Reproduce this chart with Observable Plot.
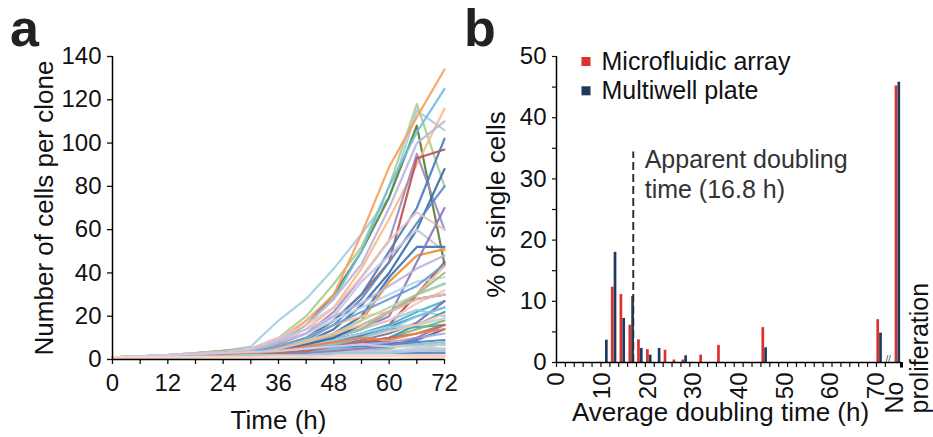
<!DOCTYPE html>
<html><head><meta charset="utf-8">
<script src="https://cdn.jsdelivr.net/npm/d3@7"></script>
<script src="https://cdn.jsdelivr.net/npm/@observablehq/plot@0.6"></script>
<style>
body{margin:0;background:#fff;}
#wrap{position:relative;width:933px;height:437px;font-family:"Liberation Sans",Arial,Helvetica,sans-serif;overflow:hidden;}
#pa{position:absolute;left:0;top:0;}
#pb{position:absolute;left:470px;top:0;}
.lbl{position:absolute;font-weight:bold;font-size:52px;line-height:52px;color:#222;}
</style></head><body>
<div id="wrap">
<div id="pa"></div><div id="pb"></div>
<div class="lbl" style="left:10px;top:2px;">a</div>
<div class="lbl" style="left:464px;top:2px;">b</div>
</div>
<script>
// ---------- Panel a data ----------
const times = [0, 6, 12, 18, 24, 30, 36, 42, 48, 54, 60, 66, 72];
const cloneCounts = [
  [1,1.5,2,3,4,6,18,28,42,58,75,115,106],
  [1,1.5,2,2.5,4,5,10,20,35,52,80,118,80],
  [1,1,2,2.5,3,5,8,16,30,50,75,108,44],
  [1,1.5,2,3,4,5,9,18,30,58,89,112,134],
  [1,1,2,3,4,5,8,16,28,50,80,105,125],
  [1,1.5,2,3,3.5,5,8,14,24,42,65,90,116],
  [1,1.5,2,2.5,3,4,9,16,28,44,70,100,110],
  [1,1,2,2.5,3,4,7,12,22,38,55,95,60],
  [1,1,1.5,2,3,4,6,10,18,30,45,93,97],
  [1,1,1.5,2,3,4,6,10,18,30,50,70,102],
  [1,1,1.5,2,3,4,5,8,14,25,40,60,88],
  [1,1,1.5,2,2.5,3.5,5,9,16,28,45,63,80],
  [1,1.5,2,2.5,3,4,9,14,20,36,48,60,50],
  [1,1.5,2,2.5,3,5,10,16,24,38,55,68,60],
  [1,1,1.5,2,2.5,3.5,5,8,12,18,36,48,51],
  [1,1,1.5,2,2.5,3,4,8,12,20,38,52,52],
  [1,1,1.5,2,2.5,3,4,6,10,14,22,30,35],
  [1,1,1.5,2,2.5,3,5,7,10,14,20,45,70],
  [1,1,1.5,2,2.5,3,4,6,9,12,16,30,45],
  [1,1.5,2,2.5,3,4,6,10,16,20,22,30,43],
  [1,1.5,2,2.5,3,4,6,9,12,18,24,30,35],
  [1,1,1.5,2,2.5,3,4,6,9,12,16,22,27],
  [1,1,1.5,2,2.5,3,4,6,8,11,15,20,24],
  [1,1,1.5,2,2.5,3.5,6,8,10,14,18,23,20],
  [1,1,1.5,2,2.5,3,4,5,7,9,12,17,27],
  [1,1,1.5,2,2.5,3,5,8,12,15,18,26,32],
  [1,1,1.5,2,2,3,4,6,9,12,14,15,16],
  [1,1,1.5,2,2,3,4,5,6,8,10,14,18],
  [1,1,1.5,2,2.5,3,5,7,9,12,15,16,19],
  [1,1,1.5,2,2,2.5,3,4,5,6,7,9,14],
  [1,1,1.5,2,2,2.5,3,4,5,8,8,6,7],
  [1,1,1.5,2,2,3,4,5,6,7,8,10,12],
  [1,1,1.5,1.5,2,2.5,3,4,5,6,5,8,3],
  [1,1,1.5,1.5,2,2.5,3,4,5,6,7,8,9],
  [1,1,1,1.5,2,2,3,4,5,5,6,7,8],
  [1,1,1,1.5,2,2,3,3,4,4,3,4,5],
  [1,1,1,1,1.5,1.5,2,2,2,2.5,2.5,2,2],
  [1,1,1,1,1,1.5,1.5,2,2,2,2,2,1.5],
  [1,1,1,1.5,1.5,2,2,3,4,5,4,3,4],
  [1,1,1,1.5,2,2,3,3,4,5,6,6,7],
  [1,1,1,1.5,1.5,2,2,3,3,4,4,5,5],
  [1,1,1,1,1.5,1.5,2,2,3,3,3,3,3],
  [1,1,1,1.5,1.5,2,2,3,4,5,6,10,16],
  [1,1,1.5,1.5,2,2.5,3,4,6,8,10,16,22],
  [1,1,1.5,2,2,2.5,3,4,6,8,10,12,16],
  [1,1,1.5,2,2.5,3,4,6,8,10,13,16,21],
  [1,1.5,2,2.5,3,4,8,12,18,24,30,36,38],
  [1,1,1.5,2,2.5,3,5,8,11,14,22,30,40],
  [1,1,1.5,2,2.5,3,4,7,10,16,22,28,30],
  [1,1,1.5,2,2.5,3,4,5,7,10,14,20,24],
  [1,1.5,2,2.5,3,4,8,12,20,26,34,42,48],
  [1,1,1.5,2,2.5,3,5,8,12,16,22,28,30],
  [1,1,1.5,2,2.5,3.5,6,10,16,22,28,34,44],
  [1,1,1.5,2,2.5,3,4,6,8,10,9,12,14],
  [1,1.5,2,2.5,3,3.5,4,5,6,7,6,6,5],
  [1,1,1,1.5,1.5,2,2,2,3,3,3,4,4],
  [1,1,1,1,1,1,1,1,1.5,1.5,1.5,1.5,1.5],
  [1,1,1,1,1,1,1.5,1.5,1.5,1.5,2,1,1]
];
const cloneColors = [
  "#a6cde3","#a8cf94","#5b7f3a","#fba15e","#6fc0d8","#fdb98a","#b9b6dc","#9b8ec4",
  "#c0504d","#4a7fbf","#3a6ea5","#5b87c5","#c7c3e0","#e8c3c0","#f28e2b","#3b74b7",
  "#2a9fbc","#8a78b8","#b5443d","#f9c29a","#b8d6a8","#4cb3cf","#4b79b8","#9cc9e4",
  "#7d6db0","#f3c5c2","#38a5c0","#7fb56a","#add3e8","#3f6fb1","#63568f","#aea7d3",
  "#8cc078","#4f84c2","#8cc3df","#f7a35c","#f8d0b8","#f2cfcf","#5fbfd6","#c4dfb5",
  "#c9c5e2","#5b8bc6","#8c7dbd","#2b9ab8","#c96560","#fbc8a0","#b4d8ec","#9fbf8a",
  "#356aa9","#7acde0","#bdb3d9","#f5b8a3","#6e9fd0","#e8804a","#d0cde6","#a4cfe5",
  "#f0c9c4","#f9d8c4"
];
const timeTicks = [0, 6, 12, 18, 24, 30, 36, 42, 48, 54, 60, 66, 72];
const countTicks = [0, 20, 40, 60, 80, 100, 120, 140];

// ---------- Panel b data ----------
const binHours     = [10.6, 12.5, 14.4, 16.35, 18.25, 20.2, 22.15, 24.05, 26.0, 27.95, 31.85, 35.75, 45.45, 70.6, 74.6];
const microfluidic = [0, 12.3, 11.1, 6.1, 3.7, 2.1, 0, 2.0, 0.4, 0.4, 1.2, 2.8, 5.7, 7.0, 45.2];
const multiwell    = [3.65, 18.0, 7.2, 10.8, 2.3, 1.2, 2.3, 0, 0, 1.1, 0, 0, 2.4, 4.8, 45.8];
const doublingLabelTicks = [0, 10, 20, 30, 40, 50, 60, 70];
const percentTicks = [0, 5, 10, 15, 20, 25, 30, 35, 40, 45, 50];
const apparentDoubling = 16.8;
const seriesNames = ["Microfluidic array", "Multiwell plate"];
const seriesColors = ["#dc322c", "#1e3a5f"];

const FONT = '"Liberation Sans", Arial, Helvetica, sans-serif';

// ---------- Panel a ----------
const lineData = cloneCounts.flatMap((vals, i) =>
  times.map((t, j) => ({clone: i, t, n: vals[j], color: cloneColors[i]})));

const pa = Plot.plot({
  width: 470, height: 437,
  marginLeft: 112, marginRight: 26, marginTop: 56, marginBottom: 78,
  style: {fontFamily: FONT, fontSize: "24px", color: "#111", background: "transparent"},
  x: {domain: [0, 72]},
  y: {domain: [0, 140]},
  color: {type: "identity"},
  marks: [
    Plot.line(lineData, {x: "t", y: "n", z: "clone", stroke: "color", strokeWidth: 2.2, strokeOpacity: 0.92}),
    Plot.axisX({ticks: timeTicks, tickFormat: d => d % 12 === 0 ? String(d) : "", tickSize: 5, tickPadding: 9, label: null, strokeWidth: 1.3}),
    Plot.axisY({ticks: countTicks, tickSize: 5, tickPadding: 6, label: null, strokeWidth: 1.3}),
    Plot.ruleX([0], {stroke: "#000", strokeWidth: 1.5}),
    Plot.ruleY([0], {stroke: "#000", strokeWidth: 1.5}),
    Plot.text(["Time (h)"], {frameAnchor: "bottom", dy: 61, textAnchor: "middle", lineAnchor: "middle", fontSize: 26, fill: "#111"}),
    Plot.text(["Number of cells per clone"], {frameAnchor: "left", dx: -68, rotate: -90, textAnchor: "middle", lineAnchor: "middle", fontSize: 26, fill: "#111"})
  ]
});
document.getElementById("pa").appendChild(pa);

// ---------- Panel b ----------
const barData = binHours.flatMap((h, i) => [
  {h, v: microfluidic[i], s: 0},
  {h, v: multiwell[i], s: 1}
]).filter(d => d.v > 0);
const minorTicks = d3.range(0, 73, 1.945).concat([75.5]);

const pb = Plot.plot({
  width: 463, height: 437,
  marginLeft: 86, marginRight: 32, marginTop: 56, marginBottom: 75,
  style: {fontFamily: FONT, fontSize: "24px", color: "#111", background: "transparent", overflow: "visible"},
  x: {domain: [0, 75.5]},
  y: {domain: [0, 50]},
  marks: [
    Plot.ruleX(barData.filter(d => d.s === 0), {x: "h", y1: 0, y2: "v", stroke: seriesColors[0], strokeWidth: 2.7, dx: -1.4}),
    Plot.ruleX(barData.filter(d => d.s === 1), {x: "h", y1: 0, y2: "v", stroke: seriesColors[1], strokeWidth: 2.7, dx: 1.4}),
    Plot.ruleX([apparentDoubling], {y1: 0, y2: 34.4, stroke: "#333", strokeWidth: 2, strokeDasharray: "8,4"}),
    Plot.text(["Apparent doubling\ntime (16.8 h)"], {x: 19.3, y: 35.3, textAnchor: "start", lineAnchor: "top", lineHeight: 1.2, fontSize: 25, fill: "#333"}),
    Plot.axisX({ticks: minorTicks, tickSize: 5, tickFormat: () => "", label: null, strokeWidth: 1.2}),
    Plot.text(doublingLabelTicks, {x: d => d, frameAnchor: "bottom", dy: 10, rotate: -90, textAnchor: "end", lineAnchor: "middle", fontSize: 24, fill: "#111"}),
    Plot.axisY({ticks: percentTicks, tickSize: 4, tickPadding: 6, tickFormat: d => d % 10 === 0 ? String(d) : "", label: null, strokeWidth: 1.2}),
    Plot.ruleX([0], {stroke: "#000", strokeWidth: 1.5}),
    Plot.ruleY([0], {stroke: "#000", strokeWidth: 1.5}),
    Plot.ruleX([75.5], {y1: 0, y2: -0.9, stroke: "#000", strokeWidth: 3}),
    Plot.text(["//"], {x: 72.6, y: 0, dy: -3, fontSize: 9, fill: "#333"}),
    Plot.text(["No\nproliferation"], {x: 74.6, frameAnchor: "bottom", dx: 10.6, dy: 51, rotate: -90, textAnchor: "start", lineAnchor: "middle", lineHeight: 1.0, fontSize: 25, fill: "#111"}),
    Plot.text(["Average doubling time (h)"], {frameAnchor: "bottom", dx: -8.5, dy: 50, textAnchor: "middle", lineAnchor: "middle", fontSize: 26, fill: "#111"}),
    Plot.text(["% of single cells"], {frameAnchor: "left", dx: -60, dy: -5, rotate: -90, textAnchor: "middle", lineAnchor: "middle", fontSize: 26, fill: "#111"}),
    Plot.dot([seriesNames[0]], {frameAnchor: "top-left", dx: 29.5, dy: 5, symbol: "square", r: 5.1, fill: seriesColors[0], stroke: "none"}),
    Plot.dot([seriesNames[1]], {frameAnchor: "top-left", dx: 29.5, dy: 34.3, symbol: "square", r: 5.1, fill: seriesColors[1], stroke: "none"}),
    Plot.text([seriesNames[0]], {frameAnchor: "top-left", dx: 45, dy: 5, textAnchor: "start", lineAnchor: "middle", fontSize: 25, fill: "#111"}),
    Plot.text([seriesNames[1]], {frameAnchor: "top-left", dx: 45, dy: 34.3, textAnchor: "start", lineAnchor: "middle", fontSize: 25, fill: "#111"})
  ]
});
document.getElementById("pb").appendChild(pb);
</script>
</body></html>
